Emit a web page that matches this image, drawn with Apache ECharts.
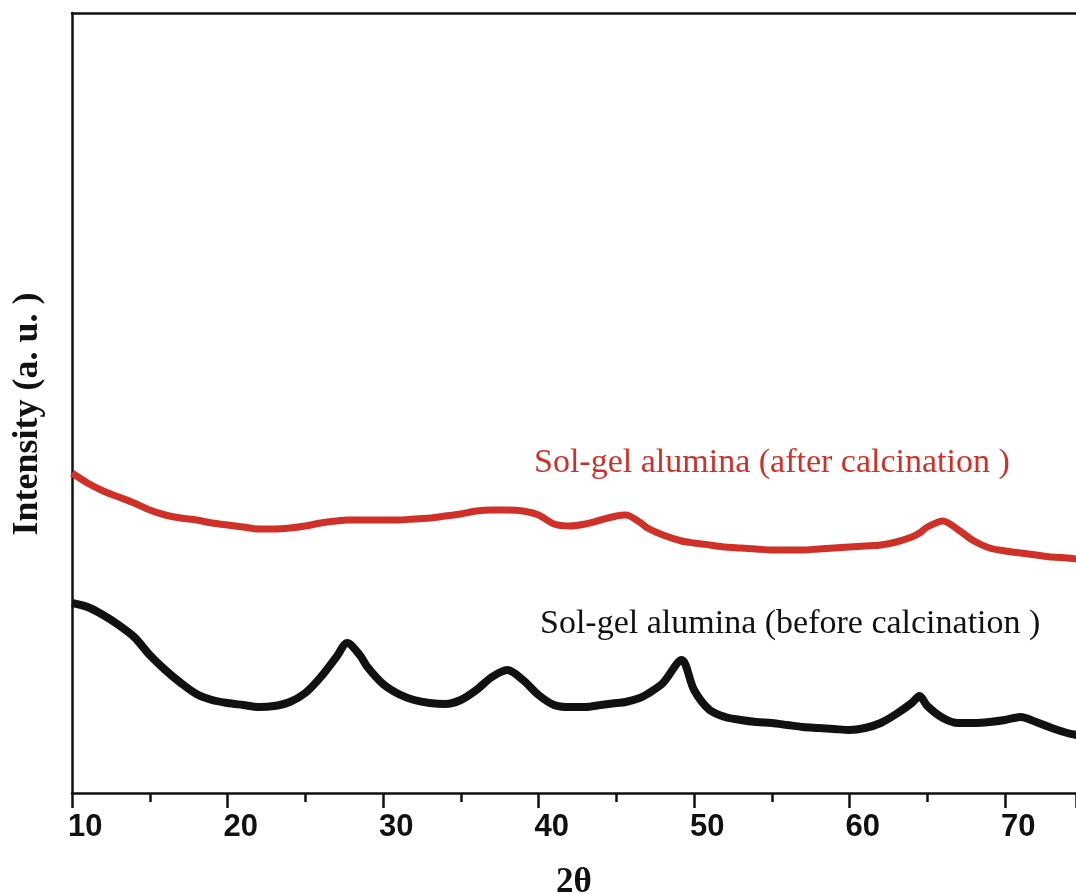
<!DOCTYPE html>
<html>
<head>
<meta charset="utf-8">
<script src="https://cdn.jsdelivr.net/npm/echarts@6/dist/echarts.min.js"></script>
<style>
  html, body { margin: 0; padding: 0; background: #fff; }
  #chart { width: 1076px; height: 894px; }
</style>
</head>
<body>
<div id="chart"></div>
<script>
// 2theta positions (deg)
const theta = [10, 11, 12, 13, 14, 15, 16, 17, 18, 19, 20, 21, 22, 23, 24, 25, 26, 27, 27.7, 28.5,
  29, 30, 31, 32, 33, 34, 35, 36, 37, 38, 39, 40, 41, 42, 43, 44, 45, 45.6, 46.5,
  47, 48, 49.2, 50, 51, 52, 53, 54, 55, 56, 57, 58, 59, 60, 61, 62, 63, 64, 64.5,
  65, 66, 67, 68, 69, 70, 71, 72, 73, 74, 74.6];

// intensity (a. u.), offset traces as in the figure
const beforeCalc = [190, 186, 178, 168, 156, 138, 123, 110, 99, 93, 90, 88, 86, 87, 91, 100, 116, 136, 150, 138,
  126, 109, 99, 93, 90, 89, 93, 103, 116, 123, 113, 98, 88, 86, 86, 88, 90, 91, 95,
  99, 110, 133, 103, 83, 76, 73, 71, 70, 68, 66, 65, 64, 63, 65, 70, 79, 90, 97,
  87, 75, 70, 70, 71, 73, 76, 71, 65, 60, 58];

const afterCalc = [320, 310, 302, 296, 290, 283, 278, 275, 273, 270, 268, 266, 264, 264, 265, 267, 270, 272, 273, 273,
  273, 273, 273, 274, 275, 277, 279, 282, 283, 283, 282, 278, 269, 267, 269, 273, 277, 278, 271,
  265, 258, 252, 250, 248, 246, 245, 244, 243, 243, 243, 244, 245, 246, 247, 248, 251, 256, 260,
  266, 272, 263, 252, 245, 242, 240, 238, 236, 235, 234];

const xTicks = [10, 20, 30, 40, 50, 60, 70];

const seriesNames = ['Sol-gel alumina (after calcination )', 'Sol-gel alumina (before calcination )'];

const red = '#cf3128';

const chart = echarts.init(document.getElementById('chart'), null, { renderer: 'canvas' });

const option = {
  backgroundColor: '#fff',
  animation: false,
  grid: { left: 72, top: 13, right: 0, bottom: 101, outerBoundsMode: 'none', containLabel: false },
  xAxis: [
    {
      type: 'value',
      min: 10,
      max: 74.56,
      interval: 10,
      name: '2θ',
      nameLocation: 'middle',
      nameGap: 72,
      nameTextStyle: { fontFamily: 'Liberation Serif', fontWeight: 'bold', fontSize: 35, color: '#111' },
      axisLine: { show: true, onZero: false, lineStyle: { color: '#111', width: 2.5 } },
      axisTick: { show: true, inside: false, length: 15, lineStyle: { color: '#111', width: 2.5 } },
      minorTick: { show: true, splitNumber: 2, length: 9, lineStyle: { color: '#111', width: 2.5 } },
      axisLabel: {
        showMaxLabel: false,
        margin: 19,
        align: 'left',
        padding: [0, 0, 0, -4],
        fontFamily: 'Liberation Sans',
        fontWeight: 'bold',
        fontSize: 31,
        color: '#111',
        formatter: function (v) { return xTicks.indexOf(v) >= 0 ? String(v) : ''; }
      },
      splitLine: { show: false }
    },
    {
      type: 'value',
      position: 'top',
      min: 10,
      max: 74.56,
      axisLine: { show: true, onZero: false, lineStyle: { color: '#111', width: 2.5 } },
      axisTick: { show: false },
      axisLabel: { show: false },
      splitLine: { show: false }
    }
  ],
  yAxis: {
    type: 'value',
    min: 0,
    max: 780,
    name: 'Intensity (a. u. )',
    nameLocation: 'middle',
    nameRotate: 90,
    nameGap: 26,
    nameTextStyle: {
      fontFamily: 'Liberation Serif', fontWeight: 'bold', fontSize: 36, color: '#111',
      padding: [0, 22, 0, 0]
    },
    axisLine: { show: true, onZero: false, lineStyle: { color: '#111', width: 2.5 } },
    axisTick: { show: false },
    axisLabel: { show: false },
    splitLine: { show: false }
  },
  graphic: [
    {
      type: 'text', left: 534, top: 446,
      style: { text: seriesNames[0], fill: red, font: '34px "Liberation Serif"' }
    },
    {
      type: 'text', left: 540, top: 607,
      style: { text: seriesNames[1], fill: '#111', font: '34px "Liberation Serif"' }
    }
  ],
  series: [
    {
      name: seriesNames[0],
      type: 'line',
      showSymbol: false,
      smooth: 0.3,
      clip: true,
      lineStyle: { color: red, width: 7 },
      data: theta.map(function (t, i) { return [t, afterCalc[i]]; })
    },
    {
      name: seriesNames[1],
      type: 'line',
      showSymbol: false,
      smooth: 0.3,
      clip: true,
      lineStyle: { color: '#111', width: 8 },
      data: theta.map(function (t, i) { return [t, beforeCalc[i]]; })
    }
  ]
};

chart.setOption(option);
window.addEventListener('resize', chart.resize);
</script>
</body>
</html>
